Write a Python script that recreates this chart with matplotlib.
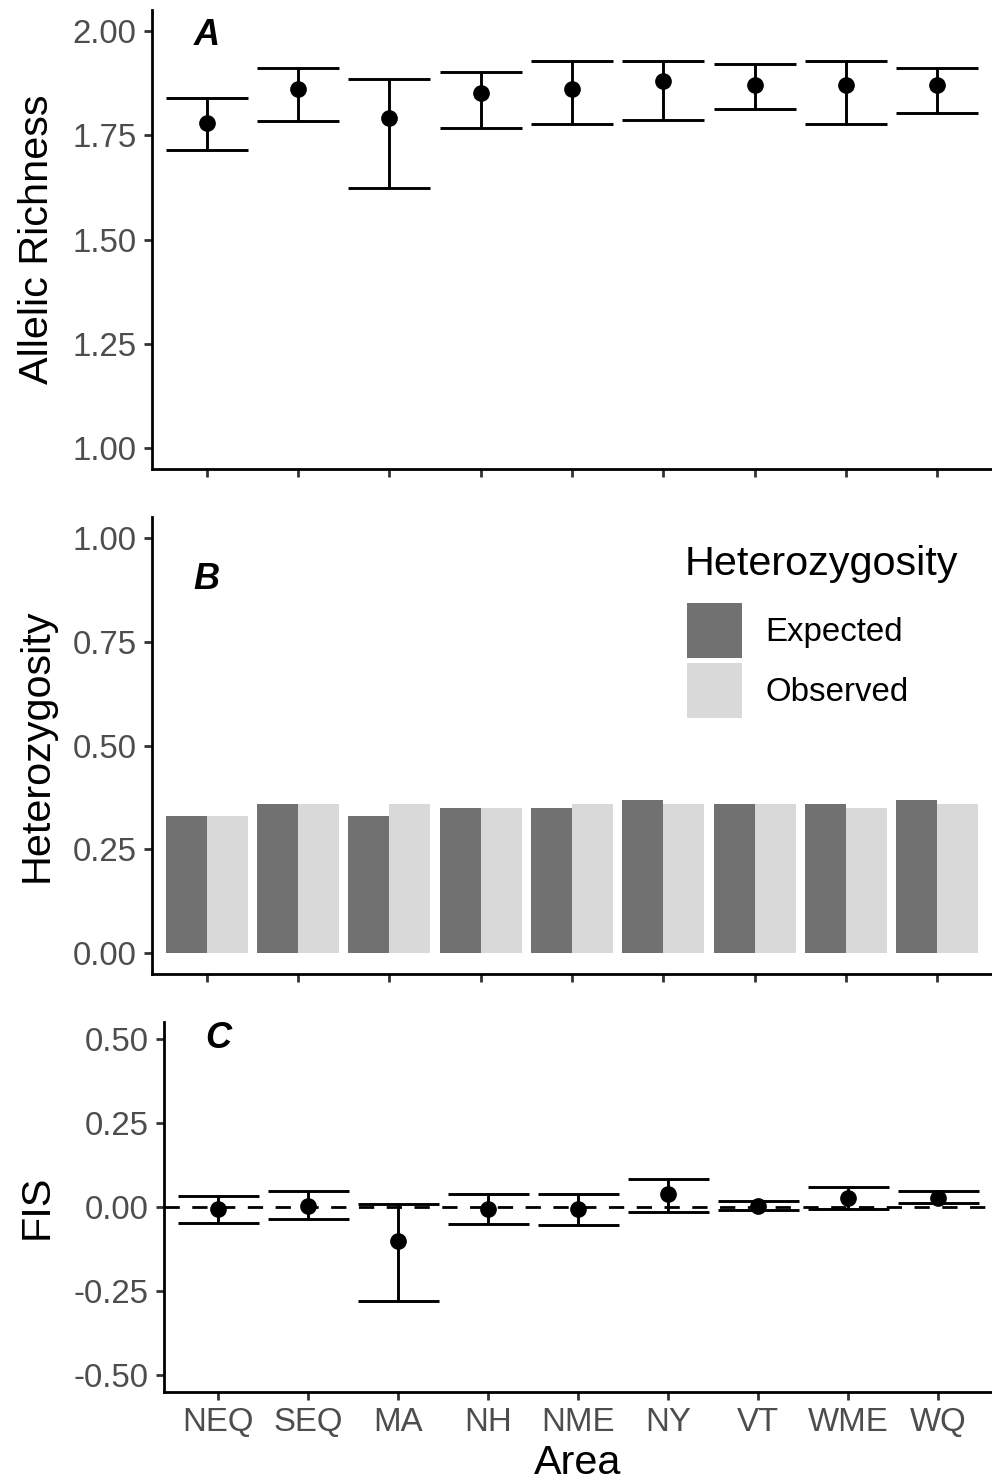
import numpy as np
import matplotlib.pyplot as plt
from matplotlib.patches import Patch
from matplotlib.transforms import blended_transform_factory

plt.rcParams['font.family'] = ['Liberation Sans', 'DejaVu Sans']

areas = ["NEQ", "SEQ", "MA", "NH", "NME", "NY", "VT", "WME", "WQ"]

# allelic richness (mean, lower, upper)
ar_mean = [1.78, 1.86, 1.79, 1.85, 1.86, 1.88, 1.87, 1.87, 1.87]
ar_low = [1.715, 1.784, 1.624, 1.768, 1.777, 1.786, 1.813, 1.777, 1.803]
ar_high = [1.839, 1.911, 1.885, 1.902, 1.928, 1.928, 1.920, 1.928, 1.911]

# heterozygosity
het_exp = [0.33, 0.36, 0.33, 0.35, 0.35, 0.37, 0.36, 0.36, 0.37]
het_obs = [0.33, 0.36, 0.36, 0.35, 0.36, 0.36, 0.36, 0.35, 0.36]

# FIS (mean, lower, upper)
fis_mean = [-0.006, 0.002, -0.10, -0.006, -0.006, 0.039, 0.004, 0.028, 0.028]
fis_low = [-0.048, -0.036, -0.28, -0.051, -0.054, -0.015, -0.009, -0.006, 0.012]
fis_high = [0.033, 0.048, 0.009, 0.039, 0.039, 0.083, 0.017, 0.060, 0.048]

ticks_ar = [1.00, 1.25, 1.50, 1.75, 2.00]
ticks_het = [0.00, 0.25, 0.50, 0.75, 1.00]
ticks_fis = [-0.50, -0.25, 0.00, 0.25, 0.50]

base = 29.8
small = 23.8
tick_col = "#4D4D4D"
W, H = 992, 1484

fig = plt.figure(figsize=(W / 100, H / 100), dpi=100)


def box(l, t, r, b):
    return [l / W, 1 - b / H, (r - l) / W, (b - t) / H]


axA = fig.add_axes(box(152, 10, 992, 469))
axB = fig.add_axes(box(152, 517, 992, 974))
axC = fig.add_axes(box(164, 1022, 992, 1392))

x = np.arange(1, len(areas) + 1)


def style(ax, ticks, ylim):
    for s in ["top", "right"]:
        ax.spines[s].set_visible(False)
    for s in ["left", "bottom"]:
        ax.spines[s].set_linewidth(2.0)
    ax.set_xlim(0.4, len(areas) + 0.6)
    ax.set_ylim(*ylim)
    ax.set_yticks(ticks)
    ax.set_yticklabels([f"{v:.2f}" for v in ticks])
    ax.set_xticks(x)
    ax.tick_params(length=6, width=2.0, color="#333333", labelsize=small,
                   labelcolor=tick_col, pad=5)


def errbars(ax, mean, low, high):
    ax.vlines(x, low, high, color="black", lw=2.1)
    ax.hlines(low, x - 0.45, x + 0.45, color="black", lw=2.1)
    ax.hlines(high, x - 0.45, x + 0.45, color="black", lw=2.1)
    ax.plot(x, mean, "o", color="black", ms=11, zorder=5)


# A
style(axA, ticks_ar, (0.95, 2.05))
errbars(axA, ar_mean, ar_low, ar_high)
axA.set_xticklabels([])
axA.text(1, 1.99, "A", fontsize=26, fontweight="bold", fontstyle="italic",
         ha="center", va="center")
axA.set_ylabel("Allelic Richness", fontsize=base)

# B
style(axB, ticks_het, (-0.05, 1.05))
axB.bar(x - 0.225, het_exp, width=0.45, color="#717171", label="Expected")
axB.bar(x + 0.225, het_obs, width=0.45, color="#D9D9D9", label="Observed")
axB.set_xticklabels([])
axB.text(1, 0.9, "B", fontsize=26, fontweight="bold", fontstyle="italic",
         ha="center", va="center")
axB.set_ylabel("Heterozygosity", fontsize=base)
handles = [Patch(facecolor="#717171", edgecolor="none"),
           Patch(facecolor="#D9D9D9", edgecolor="none")]
axB.text(0.6345, 0.873, "Heterozygosity", fontsize=base, transform=axB.transAxes,
         ha="left", va="baseline")
axB.legend(handles, ["Expected", "Observed"],
           loc="upper left", bbox_to_anchor=(0.637, 0.812), frameon=False,
           fontsize=small, handlelength=1.66, handleheight=2.18,
           handletextpad=0.7, labelspacing=0.15, borderpad=0, borderaxespad=0)

# C
style(axC, ticks_fis, (-0.55, 0.55))
axC.axhline(0, color="black", lw=2.0, ls=(0, (5.5, 4.5)), zorder=1)
errbars(axC, fis_mean, fis_low, fis_high)
axC.set_xticklabels(areas)
axC.text(1, 0.5, "C", fontsize=26, fontweight="bold", fontstyle="italic",
         ha="center", va="center")
axC.set_ylabel("FIS", fontsize=base)
axC.set_xlabel("Area", fontsize=base, labelpad=4)

for ax in (axA, axB, axC):
    ax.yaxis.set_label_coords(56 / W, 0.5, transform=None)
    ax.yaxis.label.set_transform(
        blended_transform_factory(fig.transFigure, ax.transAxes))

fig.savefig("out.png", dpi=100)
